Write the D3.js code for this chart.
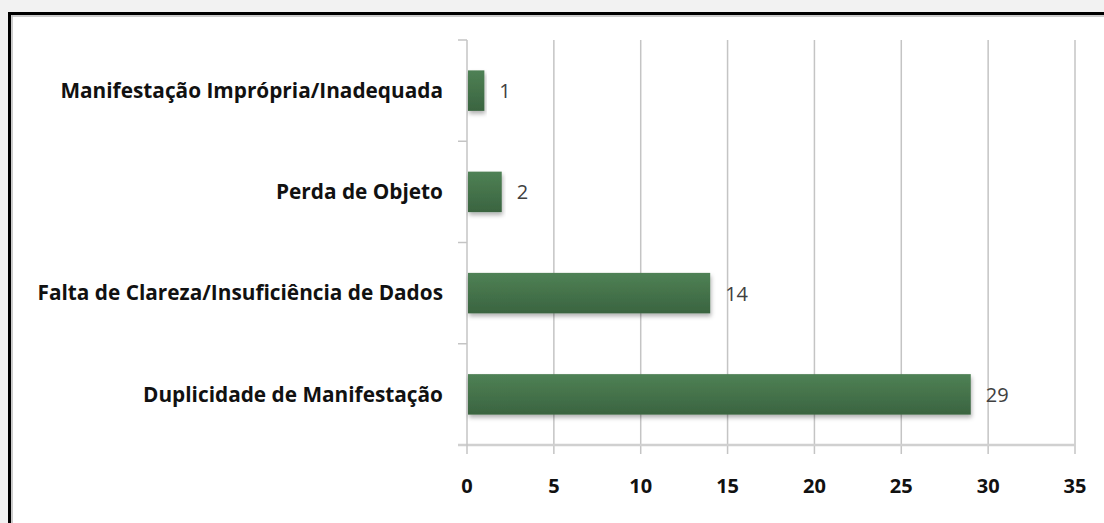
<!DOCTYPE html>
<html>
<head>
<meta charset="utf-8">
<script src="https://cdn.jsdelivr.net/npm/d3@7"></script>
<style>
  html, body { margin: 0; padding: 0; background: #f2f2f2; }
  svg { display: block; }
</style>
</head>
<body>
<div id="chart"></div>
<script>
// data
const categories = [
  "Manifestação Imprópria/Inadequada",
  "Perda de Objeto",
  "Falta de Clareza/Insuficiência de Dados",
  "Duplicidade de Manifestação"
];
const values = [1, 2, 14, 29];
const xTicks = [0, 5, 10, 15, 20, 25, 30, 35];

const width = 1104, height = 523;
const margin = { left: 467, right: 29, top: 40, bottom: 78 };

const svg = d3.select("#chart").append("svg")
    .attr("width", width)
    .attr("height", height);

// frame
svg.append("rect")
    .attr("x", 9.5).attr("y", 13.5)
    .attr("width", width + 20).attr("height", height + 20)
    .attr("fill", "#fff")
    .attr("stroke", "#000")
    .attr("stroke-width", 3);
svg.append("line")
    .attr("x1", 12).attr("x2", 12).attr("y1", 15).attr("y2", height)
    .attr("stroke", "#bbb").attr("stroke-width", 1.5);
svg.append("line")
    .attr("x1", 12).attr("x2", width).attr("y1", 16).attr("y2", 16)
    .attr("stroke", "#bbb").attr("stroke-width", 1.5);

const x = d3.scaleLinear()
    .domain([0, 35])
    .range([margin.left, width - margin.right]);

const y = d3.scaleBand()
    .domain(categories)
    .range([margin.top, height - margin.bottom])
    .paddingInner(0.6)
    .paddingOuter(0.3);

const plotTop = margin.top, plotBottom = height - margin.bottom;

// gradient for bars
const defs = svg.append("defs");
const grad = defs.append("linearGradient")
    .attr("id", "barGrad")
    .attr("x1", 0).attr("x2", 0).attr("y1", 0).attr("y2", 1);
grad.append("stop").attr("offset", "0%").attr("stop-color", "#4f8155");
grad.append("stop").attr("offset", "100%").attr("stop-color", "#3a6440");

const shadow = defs.append("filter").attr("id", "shadow")
    .attr("x", "-5%").attr("y", "-20%").attr("width", "115%").attr("height", "150%");
shadow.append("feDropShadow")
    .attr("dx", 1).attr("dy", 3).attr("stdDeviation", 2)
    .attr("flood-color", "#000").attr("flood-opacity", 0.3);

// vertical gridlines
svg.append("g")
    .selectAll("line")
    .data(xTicks.filter(d => d > 0))
    .join("line")
    .attr("x1", d => x(d)).attr("x2", d => x(d))
    .attr("y1", plotTop).attr("y2", plotBottom + 9)
    .attr("stroke", "#c4c4c4")
    .attr("stroke-width", 1.5);

// x axis line
svg.append("line")
    .attr("x1", x(0) - 9).attr("x2", x(35))
    .attr("y1", plotBottom).attr("y2", plotBottom)
    .attr("stroke", "#d0d0d0").attr("stroke-width", 2.5);
svg.append("line")
    .attr("x1", x(0)).attr("x2", x(0))
    .attr("y1", plotBottom).attr("y2", plotBottom + 9)
    .attr("stroke", "#c4c4c4").attr("stroke-width", 1.5);

// y axis line with ticks between categories
svg.append("line")
    .attr("x1", x(0)).attr("x2", x(0))
    .attr("y1", plotTop).attr("y2", plotBottom)
    .attr("stroke", "#c4c4c4").attr("stroke-width", 1.5);
const step = (plotBottom - plotTop) / categories.length;
svg.append("g")
    .selectAll("line")
    .data(d3.range(categories.length))
    .join("line")
    .attr("x1", x(0) - 9).attr("x2", x(0))
    .attr("y1", i => plotTop + i * step)
    .attr("y2", i => plotTop + i * step)
    .attr("stroke", "#c4c4c4").attr("stroke-width", 1.5);

// x tick labels
svg.append("g")
    .selectAll("text")
    .data(xTicks)
    .join("text")
    .attr("x", d => x(d))
    .attr("y", plotBottom + 48)
    .attr("text-anchor", "middle")
    .attr("font-family", "'Open Sans', sans-serif")
    .attr("font-weight", "bold")
    .attr("font-size", 20)
    .attr("fill", "#111")
    .text(d => d);

// category labels
svg.append("g")
    .selectAll("text")
    .data(categories)
    .join("text")
    .attr("x", 443)
    .attr("y", d => y(d) + y.bandwidth() / 2)
    .attr("dy", "0.35em")
    .attr("text-anchor", "end")
    .attr("font-family", "'Open Sans', sans-serif")
    .attr("font-weight", "bold")
    .attr("font-size", 20.8)
    .attr("fill", "#111")
    .text(d => d);

// bars
svg.append("g")
    .selectAll("rect")
    .data(values)
    .join("rect")
    .attr("x", x(0) + 1)
    .attr("y", (d, i) => y(categories[i]))
    .attr("width", d => x(d) - x(0) - 1)
    .attr("height", y.bandwidth())
    .attr("fill", "url(#barGrad)")
    .attr("filter", "url(#shadow)");

// value labels
svg.append("g")
    .selectAll("text")
    .data(values)
    .join("text")
    .attr("x", d => x(d) + 15)
    .attr("y", (d, i) => y(categories[i]) + y.bandwidth() / 2)
    .attr("dy", "0.38em")
    .attr("font-family", "'Open Sans', sans-serif")
    .attr("font-size", 20)
    .attr("fill", "#404040")
    .text(d => d);
</script>
</body>
</html>
